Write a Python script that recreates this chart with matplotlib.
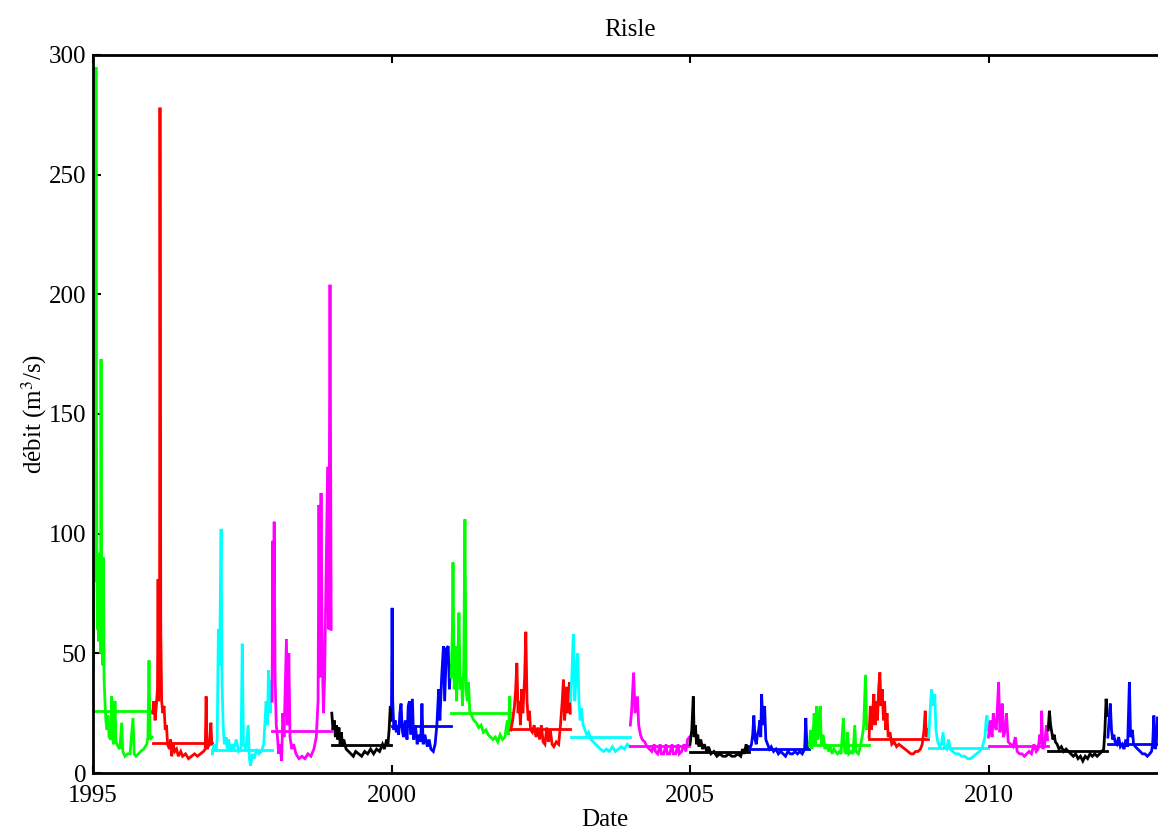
import matplotlib
matplotlib.use("Agg")
import matplotlib.pyplot as plt
import numpy as np

# Débits journaliers de la Risle, une série par année (t = fraction de l'année)
years = list(range(1995, 2013))

t1995 = [0.00, 0.010, 0.018, 0.025, 0.030, 0.040, 0.050, 0.058, 0.066, 0.075, 0.085, 0.095, 0.105,
         0.115, 0.125, 0.135, 0.145, 0.155, 0.165, 0.175, 0.185, 0.200, 0.215, 0.235, 0.250, 0.270,
         0.300, 0.313, 0.330, 0.350, 0.368, 0.385, 0.42, 0.45, 0.48, 0.50, 0.536, 0.58, 0.62, 0.67,
         0.69, 0.72, 0.76, 0.80, 0.85, 0.90, 0.92, 0.938, 0.955, 0.99]
q1995 = [43, 60, 100, 262, 120, 80, 295, 150, 95, 60, 90, 55, 75, 92, 50, 173, 60, 85, 45, 90, 40,
         30, 22, 18, 24, 15, 14, 32, 14, 12, 30, 13, 11, 10, 21, 9, 7, 8, 8, 23, 8, 7, 8, 9, 10, 12,
         15, 47, 14, 15]

t1996 = [0.00, 0.02, 0.04, 0.06, 0.08, 0.09, 0.10, 0.115, 0.122, 0.135, 0.15, 0.17, 0.19, 0.21,
         0.23, 0.25, 0.28, 0.30, 0.318, 0.34, 0.37, 0.40, 0.43, 0.47, 0.50, 0.55, 0.60, 0.65, 0.70,
         0.75, 0.80, 0.85, 0.88, 0.895, 0.91, 0.95, 0.975, 0.99]
q1996 = [25, 30, 22, 28, 35, 81, 30, 60, 278, 60, 30, 25, 28, 18, 20, 12, 10, 14, 7, 12, 9, 10, 7,
         9, 7, 8, 6, 7, 8, 7, 8, 9, 10, 32, 10, 12, 21, 12]

t1997 = [0.00, 0.03, 0.06, 0.08, 0.10, 0.12, 0.146, 0.16, 0.18, 0.20, 0.23, 0.25, 0.27, 0.30, 0.33,
         0.36, 0.40, 0.44, 0.48, 0.50, 0.52, 0.56, 0.60, 0.62, 0.64, 0.67, 0.70, 0.74, 0.78, 0.82,
         0.86, 0.90, 0.92, 0.94, 0.97, 0.99]
q1997 = [8, 12, 9, 14, 60, 45, 102, 40, 20, 12, 15, 10, 14, 9, 12, 10, 14, 9, 10, 54, 12, 10, 20,
         6, 3, 8, 6, 10, 8, 9, 12, 30, 20, 43, 25, 38]

t1998 = [0.00, 0.01, 0.02, 0.035, 0.05, 0.07, 0.09, 0.11, 0.13, 0.16, 0.18, 0.20, 0.24, 0.26, 0.28,
         0.30, 0.33, 0.36, 0.40, 0.45, 0.50, 0.55, 0.60, 0.65, 0.70, 0.74, 0.77, 0.785, 0.80, 0.82,
         0.84, 0.86, 0.88, 0.93, 0.95, 0.97, 0.99]
q1998 = [30, 97, 60, 105, 40, 20, 15, 8, 12, 5, 25, 15, 56, 20, 50, 15, 10, 12, 8, 6, 7, 6, 8, 7,
         10, 15, 30, 112, 40, 117, 50, 25, 40, 128, 60, 204, 60]

t1999 = [0.00, 0.02, 0.04, 0.06, 0.08, 0.10, 0.12, 0.14, 0.16, 0.18, 0.20, 0.24, 0.28, 0.32, 0.36,
         0.40, 0.45, 0.50, 0.55, 0.60, 0.65, 0.70, 0.75, 0.80, 0.85, 0.88, 0.92, 0.94, 0.96, 0.98,
         0.995]
q1999 = [25, 18, 22, 15, 20, 14, 19, 12, 17, 11, 14, 10, 9, 8, 7, 9, 8, 7, 9, 8, 10, 8, 10, 9, 12,
         10, 14, 12, 18, 28, 22]

t2000 = [0.00, 0.01, 0.02, 0.04, 0.06, 0.08, 0.10, 0.12, 0.14, 0.16, 0.18, 0.20, 0.23, 0.26, 0.28,
         0.30, 0.32, 0.35, 0.37, 0.40, 0.43, 0.46, 0.49, 0.51, 0.53, 0.56, 0.60, 0.63, 0.66, 0.70,
         0.73, 0.76, 0.79, 0.81, 0.84, 0.87, 0.89, 0.92, 0.95, 0.97, 0.99]
q2000 = [28, 69, 30, 18, 22, 17, 20, 16, 25, 29, 18, 15, 22, 14, 28, 30, 16, 31, 14, 20, 12, 16,
         13, 29, 12, 16, 11, 14, 10, 9, 12, 20, 35, 22, 40, 53, 30, 52, 53, 35, 45]

t2001 = [0.00, 0.02, 0.03, 0.05, 0.07, 0.09, 0.11, 0.13, 0.15, 0.17, 0.19, 0.21, 0.23, 0.25, 0.27,
         0.29, 0.31, 0.34, 0.38, 0.42, 0.46, 0.50, 0.54, 0.58, 0.62, 0.66, 0.70, 0.74, 0.78, 0.82,
         0.86, 0.90, 0.94, 0.96, 0.98, 0.995]
q2001 = [40, 60, 88, 35, 53, 30, 45, 67, 35, 40, 28, 45, 106, 35, 30, 38, 26, 24, 22, 21, 19, 20,
         17, 18, 16, 15, 14, 15, 13, 16, 14, 15, 22, 16, 32, 18]

t2002 = [0.00, 0.03, 0.06, 0.08, 0.10, 0.12, 0.14, 0.16, 0.18, 0.20, 0.23, 0.25, 0.27, 0.29, 0.31,
         0.33, 0.36, 0.39, 0.42, 0.45, 0.48, 0.51, 0.54, 0.57, 0.60, 0.63, 0.66, 0.69, 0.72, 0.76,
         0.80, 0.83, 0.86, 0.88, 0.90, 0.93, 0.95, 0.98, 0.995]
q2002 = [18, 22, 28, 35, 46, 25, 30, 20, 35, 25, 40, 59, 30, 22, 26, 18, 17, 20, 15, 19, 14, 20,
         13, 12, 19, 13, 18, 12, 11, 13, 12, 20, 30, 39, 22, 36, 25, 38, 25]

t2003 = [0.00, 0.02, 0.045, 0.07, 0.10, 0.12, 0.14, 0.16, 0.18, 0.21, 0.24, 0.27, 0.30, 0.34, 0.38,
         0.42, 0.46, 0.50, 0.55, 0.60, 0.65, 0.70, 0.75, 0.80, 0.85, 0.90, 0.95, 0.99]
q2003 = [30, 40, 58, 30, 45, 50, 30, 22, 27, 20, 18, 16, 17, 14, 13, 12, 11, 10, 9, 10, 9, 11, 9,
         10, 11, 10, 12, 11]

t2004 = [0.00, 0.02, 0.055, 0.08, 0.12, 0.14, 0.17, 0.20, 0.24, 0.28, 0.32, 0.36, 0.40, 0.42, 0.46,
         0.50, 0.52, 0.56, 0.60, 0.62, 0.66, 0.70, 0.72, 0.76, 0.80, 0.82, 0.86, 0.90, 0.93, 0.96,
         0.99]
q2004 = [20, 25, 42, 25, 32, 20, 16, 14, 13, 11, 10, 9, 12, 9, 8, 12, 8, 8, 12, 8, 8, 12, 8, 8,
         12, 8, 9, 12, 9, 14, 15]

t2005 = [0.00, 0.03, 0.055, 0.07, 0.09, 0.11, 0.13, 0.15, 0.18, 0.21, 0.24, 0.28, 0.31, 0.35, 0.40,
         0.45, 0.50, 0.55, 0.60, 0.65, 0.70, 0.75, 0.80, 0.85, 0.88, 0.91, 0.94, 0.97, 0.99]
q2005 = [12, 18, 32, 15, 20, 12, 16, 11, 14, 10, 12, 9, 11, 8, 9, 7, 8, 7, 7, 8, 7, 7, 8, 7, 10,
         8, 12, 9, 11]

t2006 = [0.00, 0.03, 0.05, 0.07, 0.09, 0.11, 0.13, 0.15, 0.17, 0.185, 0.20, 0.22, 0.25, 0.27, 0.30,
         0.33, 0.36, 0.40, 0.44, 0.48, 0.52, 0.56, 0.60, 0.64, 0.68, 0.72, 0.76, 0.80, 0.84, 0.88,
         0.92, 0.94, 0.96, 0.99]
q2006 = [10, 12, 16, 24, 14, 12, 16, 18, 22, 15, 33, 20, 28, 14, 12, 10, 11, 9, 10, 8, 9, 8, 7, 9,
         8, 8, 9, 8, 9, 8, 10, 23, 10, 12]

t2007 = [0.00, 0.02, 0.04, 0.06, 0.08, 0.10, 0.12, 0.14, 0.16, 0.18, 0.20, 0.23, 0.26, 0.29, 0.32,
         0.35, 0.38, 0.41, 0.44, 0.47, 0.50, 0.53, 0.57, 0.59, 0.62, 0.64, 0.66, 0.70, 0.73, 0.76,
         0.78, 0.82, 0.86, 0.89, 0.91, 0.94, 0.96, 0.99]
q2007 = [12, 18, 10, 15, 25, 12, 28, 14, 20, 28, 12, 16, 10, 12, 9, 11, 8, 10, 9, 8, 9, 8, 23, 9,
         8, 17, 8, 9, 8, 20, 9, 8, 12, 16, 20, 41, 18, 20]

t2008 = [0.00, 0.02, 0.04, 0.06, 0.08, 0.10, 0.12, 0.14, 0.16, 0.18, 0.20, 0.22, 0.24, 0.26, 0.28,
         0.30, 0.32, 0.35, 0.38, 0.42, 0.46, 0.50, 0.55, 0.60, 0.65, 0.70, 0.74, 0.78, 0.82, 0.86,
         0.89, 0.92, 0.94, 0.96, 0.99]
q2008 = [15, 28, 18, 25, 33, 20, 30, 22, 35, 42, 28, 35, 22, 30, 18, 25, 15, 17, 12, 13, 11, 12,
         11, 10, 9, 8, 8, 9, 9, 10, 12, 18, 26, 15, 18]

t2009 = [0.00, 0.02, 0.045, 0.07, 0.10, 0.12, 0.15, 0.18, 0.21, 0.24, 0.26, 0.30, 0.33, 0.36, 0.40,
         0.45, 0.50, 0.55, 0.60, 0.65, 0.70, 0.75, 0.80, 0.85, 0.90, 0.94, 0.96, 0.975, 0.99]
q2009 = [15, 25, 35, 28, 33, 18, 13, 11, 12, 17, 11, 10, 14, 10, 9, 8, 8, 7, 7, 6, 6, 7, 8, 9, 11,
         15, 22, 24, 18]

t2010 = [0.00, 0.03, 0.06, 0.08, 0.10, 0.13, 0.15, 0.17, 0.19, 0.21, 0.23, 0.25, 0.28, 0.30, 0.33,
         0.37, 0.41, 0.45, 0.48, 0.52, 0.56, 0.60, 0.64, 0.68, 0.72, 0.76, 0.80, 0.83, 0.86, 0.88,
         0.89, 0.91, 0.94, 0.97, 0.99]
q2010 = [15, 22, 15, 25, 20, 18, 28, 38, 17, 20, 29, 15, 18, 25, 13, 12, 11, 15, 9, 8, 8, 7, 8, 9,
         8, 12, 9, 10, 16, 12, 26, 10, 12, 20, 14]

t2011 = [0.00, 0.02, 0.04, 0.06, 0.08, 0.10, 0.12, 0.15, 0.18, 0.22, 0.26, 0.30, 0.34, 0.38, 0.42,
         0.46, 0.50, 0.54, 0.58, 0.62, 0.66, 0.70, 0.74, 0.78, 0.82, 0.86, 0.90, 0.93, 0.95, 0.97,
         0.99]
q2011 = [18, 26, 20, 17, 14, 16, 13, 12, 10, 11, 9, 10, 9, 8, 7, 8, 6, 7, 5, 7, 6, 8, 7, 8, 7, 8,
         9, 10, 18, 31, 24]

t2012 = [0.00, 0.02, 0.04, 0.06, 0.08, 0.10, 0.12, 0.15, 0.18, 0.21, 0.24, 0.27, 0.30, 0.33, 0.36,
         0.38, 0.41, 0.43, 0.46, 0.50, 0.54, 0.58, 0.62, 0.66, 0.70, 0.73, 0.75, 0.77, 0.79, 0.81,
         0.83]
q2012 = [15, 22, 29, 18, 14, 16, 13, 12, 15, 11, 12, 10, 14, 11, 38, 15, 18, 12, 11, 10, 9, 8, 8,
         7, 8, 9, 12, 24, 10, 12, 23]

# moyenne annuelle (m3/s)
means = [26, 12.5, 9.6, 17.5, 11.7, 19.6, 25, 18.5, 15.2, 11.4, 8.7, 10, 11.7, 14, 10.3, 11.3,
         9.2, 12.1]

series_t = [t1995, t1996, t1997, t1998, t1999, t2000, t2001, t2002, t2003, t2004, t2005, t2006,
            t2007, t2008, t2009, t2010, t2011, t2012]
series_q = [q1995, q1996, q1997, q1998, q1999, q2000, q2001, q2002, q2003, q2004, q2005, q2006,
            q2007, q2008, q2009, q2010, q2011, q2012]

# cycle de couleurs façon Matlab
cycle = ['#00ff00', '#ff0000', '#00ffff', '#ff00ff', '#000000', '#0000ff']

plt.rcParams['font.family'] = ['Liberation Serif', 'DejaVu Serif']
plt.rcParams['mathtext.fontset'] = 'stix'

fig = plt.figure(figsize=(11.58, 8.30), dpi=100)
# l'axe déborde à droite de la figure (bord droit coupé)
ax = fig.add_axes([93 / 1158, 1 - 773 / 830, (1168 - 93) / 1158, (773 - 55) / 830])

for i, yr in enumerate(years):
    c = cycle[i % len(cycle)]
    t = yr + np.array(series_t[i])
    ax.plot(t, series_q[i], color=c, lw=2.0, solid_joinstyle='miter')
    ax.plot([yr, t[-1]], [means[i], means[i]], color=c, lw=2.0)

ax.set_xlim(1995, 1995 + (1168 - 93) / 59.7)
ax.set_ylim(0, 300)
ax.set_xticks([1995, 2000, 2005, 2010])
ax.set_yticks(range(0, 301, 50))
ax.tick_params(direction='in', top=True, right=False, length=6, width=1.5, labelsize=18)
ax.tick_params(axis='x', pad=8.5)
ax.tick_params(axis='y', pad=5)
for s in ax.spines.values():
    s.set_linewidth(2.0)

ax.set_title('Risle', fontsize=18, pad=14)
ax.set_xlabel('Date', fontsize=18)
ax.xaxis.set_label_coords(0.476, -0.05)
ax.set_ylabel('débit (m$^3$/s)', fontsize=18, labelpad=0)

fig.savefig('out.png', dpi=100)
